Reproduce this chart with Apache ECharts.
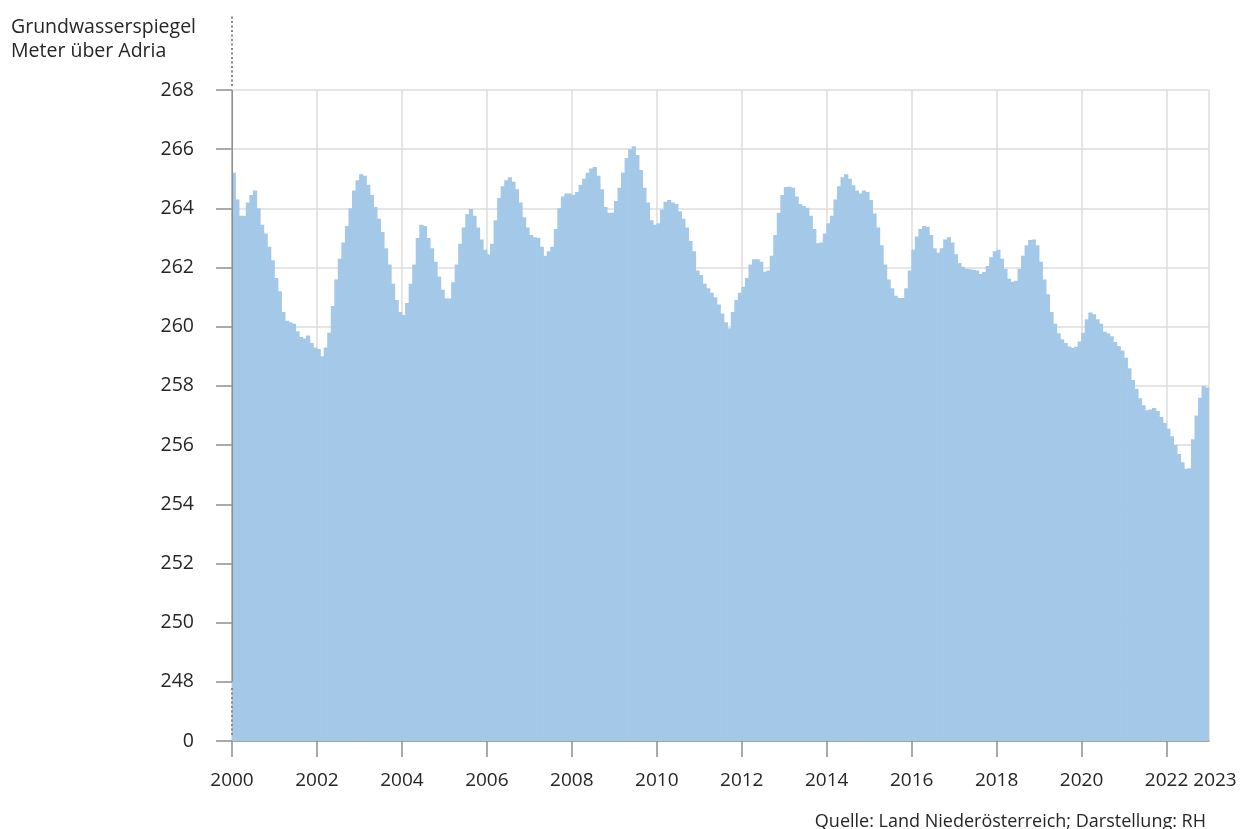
<!DOCTYPE html>
<html>
<head>
<meta charset="utf-8">
<script src="https://cdn.jsdelivr.net/npm/echarts@6/dist/echarts.min.js"></script>
<style>
  html, body { margin: 0; padding: 0; background: #fff; }
  #main { width: 1240px; height: 829px; }
</style>
</head>
<body>
<div id="main"></div>
<script>
// Grundwasserspiegel, Monatswerte in m ü. Adria
const y2000 = [265.2, 264.3, 263.75, 263.75, 264.2, 264.45, 264.6, 264.0, 263.45, 263.15, 262.7, 262.25];
const y2001 = [261.65, 261.2, 260.5, 260.2, 260.15, 260.1, 259.85, 259.65, 259.6, 259.7, 259.45, 259.3];
const y2002 = [259.25, 259.0, 259.3, 259.8, 260.7, 261.6, 262.3, 262.85, 263.4, 264.0, 264.6, 264.95];
const y2003 = [265.15, 265.1, 264.8, 264.45, 264.05, 263.65, 263.2, 262.65, 262.1, 261.45, 260.9, 260.5];
const y2004 = [260.4, 260.8, 261.45, 262.1, 263.0, 263.45, 263.4, 263.0, 262.65, 262.2, 261.7, 261.25];
const y2005 = [260.95, 260.95, 261.5, 262.1, 262.8, 263.35, 263.8, 263.98, 263.75, 263.35, 262.95, 262.6];
const y2006 = [262.45, 262.8, 263.6, 264.35, 264.75, 264.95, 265.05, 264.9, 264.65, 264.2, 263.7, 263.35];
const y2007 = [263.1, 263.02, 263.0, 262.7, 262.4, 262.55, 262.7, 263.3, 264.0, 264.4, 264.5, 264.5];
const y2008 = [264.45, 264.55, 264.8, 265.0, 265.2, 265.35, 265.4, 265.1, 264.65, 264.05, 263.85, 263.85];
const y2009 = [264.25, 264.7, 265.2, 265.7, 266.0, 266.1, 265.8, 265.3, 264.7, 264.2, 263.6, 263.45];
const y2010 = [263.5, 263.95, 264.22, 264.28, 264.2, 264.15, 263.9, 263.65, 263.35, 262.9, 262.55, 261.9];
const y2011 = [261.75, 261.45, 261.3, 261.15, 261.0, 260.75, 260.45, 260.15, 259.95, 260.5, 260.9, 261.15];
const y2012 = [261.35, 261.65, 262.1, 262.28, 262.28, 262.2, 261.86, 261.9, 262.4, 263.1, 263.85, 264.45];
const y2013 = [264.72, 264.73, 264.7, 264.4, 264.15, 264.08, 264.02, 263.75, 263.3, 262.82, 262.85, 263.15];
const y2014 = [263.5, 263.75, 264.3, 264.75, 265.05, 265.15, 265.0, 264.78, 264.6, 264.5, 264.6, 264.55];
const y2015 = [264.28, 263.83, 263.35, 262.75, 262.1, 261.6, 261.3, 261.05, 260.97, 260.97, 261.3, 261.9];
const y2016 = [262.6, 263.05, 263.3, 263.4, 263.38, 263.1, 262.65, 262.5, 262.65, 262.95, 263.02, 262.85];
const y2017 = [262.45, 262.15, 262.03, 261.96, 261.94, 261.92, 261.9, 261.78, 261.85, 262.05, 262.35, 262.55];
const y2018 = [262.6, 262.3, 261.95, 261.62, 261.52, 261.55, 261.95, 262.4, 262.75, 262.93, 262.95, 262.75];
const y2019 = [262.2, 261.6, 261.1, 260.5, 260.1, 259.78, 259.58, 259.45, 259.33, 259.28, 259.32, 259.5];
const y2020 = [259.8, 260.25, 260.48, 260.42, 260.25, 260.1, 259.83, 259.78, 259.68, 259.48, 259.35, 259.2];
const y2021 = [258.95, 258.6, 258.2, 257.9, 257.58, 257.35, 257.18, 257.2, 257.25, 257.15, 256.95, 256.75];
const y2022 = [256.55, 256.3, 256.0, 255.7, 255.42, 255.2, 255.22, 256.2, 257.0, 257.6, 258.0, 257.95];

const years = [2000, 2001, 2002, 2003, 2004, 2005, 2006, 2007, 2008, 2009, 2010, 2011,
               2012, 2013, 2014, 2015, 2016, 2017, 2018, 2019, 2020, 2021, 2022];
const yearData = [y2000, y2001, y2002, y2003, y2004, y2005, y2006, y2007, y2008, y2009, y2010, y2011,
                  y2012, y2013, y2014, y2015, y2016, y2017, y2018, y2019, y2020, y2021, y2022];

// Achse: unten gebrochen, 246 steht fuer die 0
const yMin = 246, yMax = 268, yStep = 2;
const breakLabel = '0';
const xFirst = 2000, xLast = 2023, xStep = 2;

const yTitle = 'Grundwasserspiegel\nMeter über Adria';
const sourceText = 'Quelle: Land Niederösterreich; Darstellung: RH';

let months = [];
let levels = [];
years.forEach((yr, k) => {
  yearData[k].forEach((v, m) => {
    months.push(yr + '-' + String(m + 1).padStart(2, '0'));
    levels.push(v);
  });
});

var chartDom = document.getElementById('main');
var myChart = echarts.init(chartDom, null, { renderer: 'canvas' });

const font = '"Open Sans", "Segoe UI", sans-serif';
const textColor = '#262626';
const axisGray = '#8f8f8f';
const gridGray = '#dcdcdc';
const barBlue = '#a4c9e8';

const xLabelStyle = {
  margin: 30,
  fontSize: 19,
  fontFamily: font,
  color: textColor
};

var option = {
  animation: false,
  grid: { left: 232, right: 31, top: 90, bottom: 88, outerBoundsMode: 'none' },
  xAxis: [
    {
      type: 'category',
      data: months,
      boundaryGap: true,
      show: false
    },
    {
      // Jahresachse, alle zwei Jahre
      type: 'value',
      min: xFirst,
      max: xLast,
      interval: xStep,
      position: 'bottom',
      axisLine: { show: true, lineStyle: { color: axisGray, width: 1.5 } },
      axisTick: { show: true, length: 16, lineStyle: { color: axisGray, width: 1.5 } },
      splitLine: { show: true, lineStyle: { color: gridGray, width: 1.5 } },
      axisLabel: Object.assign({}, xLabelStyle, {
        showMinLabel: true,
        showMaxLabel: false,
        formatter: v => String(v)
      })
    },
    {
      // nur das Endjahr 2023
      type: 'value',
      min: xFirst,
      max: xLast,
      interval: xLast - xFirst,
      position: 'bottom',
      axisLine: { show: false },
      axisTick: { show: false },
      splitLine: { show: false },
      axisLabel: Object.assign({}, xLabelStyle, {
        showMinLabel: true,
        showMaxLabel: true,
        padding: [0, 0, 0, 12],
        formatter: v => (v === xLast ? String(v) : '')
      })
    }
  ],
  yAxis: {
    type: 'value',
    min: yMin,
    max: yMax,
    interval: yStep,
    axisLine: { show: false },
    axisTick: { show: true, length: 16, lineStyle: { color: axisGray, width: 1.5 } },
    splitLine: { show: true, lineStyle: { color: gridGray, width: 1.5 } },
    axisLabel: {
      margin: 38,
      fontSize: 19.5,
      fontFamily: font,
      color: textColor,
      formatter: v => (v === yMin ? breakLabel : String(v))
    }
  },
  series: [
    {
      name: 'Grundwasserspiegel',
      type: 'bar',
      xAxisIndex: 0,
      yAxisIndex: 0,
      data: levels,
      barCategoryGap: '-20%',
      clip: true,
      itemStyle: { color: barBlue }
    }
  ]
};

myChart.setOption(option);

// Achsenlinie: durchgezogen 248-268, gepunktet im Bruch und oben
const px = Math.round(myChart.convertToPixel({ xAxisIndex: 1 }, xFirst));
const pyBottom = myChart.convertToPixel({ yAxisIndex: 0 }, yMin);
const pyBreak = myChart.convertToPixel({ yAxisIndex: 0 }, yMin + yStep);
const pyTop = myChart.convertToPixel({ yAxisIndex: 0 }, yMax);
const dotted = { stroke: '#8a8a8a', lineWidth: 2, lineDash: [2, 2.5] };

myChart.setOption({
  graphic: [
    {
      type: 'line', z: 100,
      shape: { x1: px + 0.25, y1: pyBreak, x2: px + 0.25, y2: pyTop },
      style: { stroke: axisGray, lineWidth: 1.5 }
    },
    {
      type: 'line', z: 100,
      shape: { x1: px, y1: pyBottom - 6, x2: px, y2: pyBreak + 4 },
      style: dotted
    },
    {
      type: 'line', z: 100,
      shape: { x1: px, y1: pyTop - 4, x2: px, y2: 15 },
      style: dotted
    },
    {
      type: 'text', right: 1044, top: 15,
      style: { text: yTitle, font: '19.5px ' + font, fill: textColor, align: 'right', lineHeight: 24 }
    },
    {
      type: 'text', right: 34, top: 813,
      style: { text: sourceText, font: '18px ' + font, fill: textColor, align: 'right' }
    }
  ]
});
</script>
</body>
</html>
